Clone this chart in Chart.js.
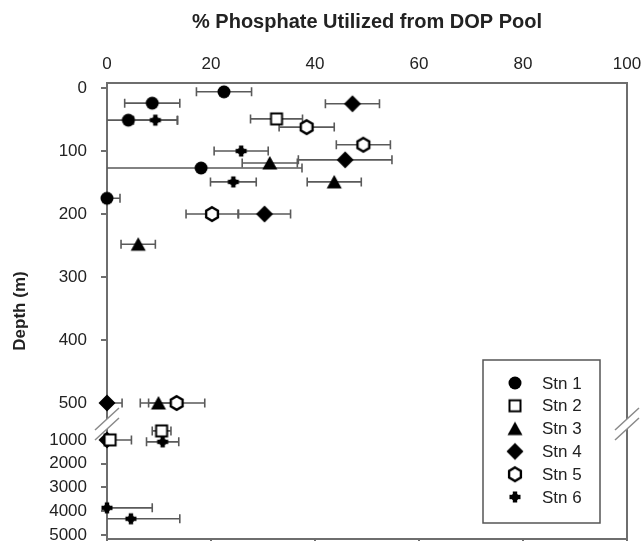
<!DOCTYPE html>
<html>
<head>
<meta charset="utf-8">
<script src="https://cdn.jsdelivr.net/npm/chart.js@4.4.1/dist/chart.umd.min.js"></script>
<style>
    html, body { margin: 0; padding: 0; background: #fff; }
    #wrap { width: 644px; height: 541px; }
</style>
</head>
<body>
<div id="wrap"><canvas id="dop-chart" width="644" height="541"></canvas></div>
<script>
// Values: % utilized, ± error, depth (m)
const stations = ["Stn 1", "Stn 2", "Stn 3", "Stn 4", "Stn 5", "Stn 6"];

const stn1Pct   = [22.5, 8.7, 4.1, 18.1, 0];
const stn1Err   = [5.3, 5.3, 9.5, 19.4, 2.5];
const stn1Depth = [6, 24, 51, 127, 175];

const stn2Pct   = [32.6, 10.5, 0.6];
const stn2Err   = [5.0, 1.8, 4.1];
const stn2Depth = [49, 878, 1000];

const stn3Pct   = [31.3, 43.7, 6.0, 9.9];
const stn3Err   = [5.3, 5.2, 3.3, 3.5];
const stn3Depth = [119, 149, 248, 500];

const stn4Pct   = [47.2, 45.8, 30.3, 0, 0];
const stn4Err   = [5.2, 9.0, 5.0, 2.9, 0];
const stn4Depth = [25, 114, 200, 500, 1000];

const stn5Pct   = [38.4, 49.3, 20.2, 13.4];
const stn5Err   = [5.3, 5.2, 5.0, 5.4];
const stn5Depth = [62, 90, 200, 500];

const stn6Pct   = [9.3, 25.8, 24.3, 10.7, 0, 4.6];
const stn6Err   = [4.2, 5.2, 4.4, 3.1, 8.7, 9.4];
const stn6Depth = [51, 100, 149, 1080, 3860, 4320];

const xTicks = [0, 20, 40, 60, 80, 100];
const depthTicks = [0, 100, 200, 300, 400, 500, 1000, 2000, 3000, 4000, 5000];

const FONT = "'Liberation Sans', Arial, sans-serif";
const AXIS_COLOR = "#6e6e6e";
const BREAK_DEPTH = 785;

// broken axis: 0-500 m linear, 500-1000 squeezed, 1000-5000 compressed
function depthToAxis(d) {
    if (d <= 500) return d;
    if (d <= 1000) return 500 + (d - 500) * 58.7 / 500;
    return 558.7 + (d - 1000) * 0.0377;
}

// the layout must not shrink the plot for the edge labels
function noEdgePadding(s) {
    s.paddingTop = 0; s.paddingBottom = 0;
    s.paddingLeft = 0; s.paddingRight = 0;
}

// --- marker images (one small canvas per station) ---
function makeMarker(draw) {
    const c = document.createElement("canvas");
    c.width = 20; c.height = 20;
    const g = c.getContext("2d");
    g.fillStyle = "#000";
    g.strokeStyle = "#000";
    draw(g);
    return c;
}

const markers = [
    makeMarker(g => { g.beginPath(); g.arc(10, 10, 6.5, 0, Math.PI * 2); g.fill(); }),
    makeMarker(g => {
        g.fillStyle = "#fff"; g.fillRect(4.5, 4.5, 11, 11);
        g.lineWidth = 2; g.strokeRect(4.5, 4.5, 11, 11);
    }),
    makeMarker(g => {
        g.beginPath(); g.moveTo(10, 3); g.lineTo(17.5, 16.5); g.lineTo(2.5, 16.5); g.closePath(); g.fill();
    }),
    makeMarker(g => {
        g.beginPath(); g.moveTo(10, 1.5); g.lineTo(18.5, 10); g.lineTo(10, 18.5); g.lineTo(1.5, 10); g.closePath(); g.fill();
    }),
    makeMarker(g => {
        g.beginPath();
        for (let k = 0; k < 6; k++) {
            const a = -Math.PI / 2 + k * Math.PI / 3;
            const px = 10 + 6.8 * Math.cos(a), py = 10 + 6.8 * Math.sin(a);
            k === 0 ? g.moveTo(px, py) : g.lineTo(px, py);
        }
        g.closePath();
        g.fillStyle = "#fff"; g.fill();
        g.lineWidth = 2.4; g.stroke();
    }),
    makeMarker(g => {
        g.fillRect(7.8, 4.5, 4.4, 11);
        g.fillRect(4.5, 7.8, 11, 4.4);
        g.beginPath(); g.arc(10, 10, 3.6, 0, Math.PI * 2); g.fill();
    })
];

function buildPoints(pct, err, depth) {
    return pct.map((v, i) => ({ x: v, y: depthToAxis(depth[i]), err: err[i] }));
}

const seriesData = [
    buildPoints(stn1Pct, stn1Err, stn1Depth),
    buildPoints(stn2Pct, stn2Err, stn2Depth),
    buildPoints(stn3Pct, stn3Err, stn3Depth),
    buildPoints(stn4Pct, stn4Err, stn4Depth),
    buildPoints(stn5Pct, stn5Err, stn5Depth),
    buildPoints(stn6Pct, stn6Err, stn6Depth)
];

// --- horizontal error bars, drawn under the markers ---
const errorBarPlugin = {
    id: "errorBars",
    beforeDatasetsDraw(chart) {
        const { ctx, scales: { x, y } } = chart;
        ctx.save();
        ctx.strokeStyle = "#5a5a5a";
        ctx.lineWidth = 1.6;
        chart.data.datasets.forEach(ds => {
            ds.data.forEach(p => {
                if (!p.err) return;
                const py = y.getPixelForValue(p.y);
                const lo = p.x - p.err;
                const x1 = x.getPixelForValue(Math.max(lo, 0));
                const x2 = x.getPixelForValue(p.x + p.err);
                ctx.beginPath();
                ctx.moveTo(x1, py); ctx.lineTo(x2, py);
                if (lo > 0) { ctx.moveTo(x1, py - 4.5); ctx.lineTo(x1, py + 4.5); }
                ctx.moveTo(x2, py - 4.5); ctx.lineTo(x2, py + 4.5);
                ctx.stroke();
            });
        });
        ctx.restore();
    }
};

// --- the // marks on both vertical axes ---
const axisBreakPlugin = {
    id: "axisBreak",
    afterDraw(chart) {
        const { ctx, chartArea, scales: { y } } = chart;
        const yb = y.getPixelForValue(depthToAxis(BREAK_DEPTH));
        [chartArea.left, chartArea.right].forEach(xb => {
            ctx.save();
            ctx.fillStyle = "#fff";
            ctx.beginPath();
            ctx.moveTo(xb - 12, yb + 6); ctx.lineTo(xb + 12, yb - 16);
            ctx.lineTo(xb + 12, yb - 6); ctx.lineTo(xb - 12, yb + 16);
            ctx.closePath(); ctx.fill();
            ctx.strokeStyle = "#8a8a8a";
            ctx.lineWidth = 1.5;
            ctx.beginPath();
            ctx.moveTo(xb - 12, yb + 6); ctx.lineTo(xb + 12, yb - 16);
            ctx.moveTo(xb - 12, yb + 16); ctx.lineTo(xb + 12, yb - 6);
            ctx.stroke();
            ctx.restore();
        });
    }
};

// --- boxed legend in the lower right corner of the plot ---
const boxLegendPlugin = {
    id: "boxLegend",
    afterDraw(chart) {
        const { ctx, chartArea } = chart;
        const w = 117, h = 163;
        const left = chartArea.right - 27 - w;
        const top = chartArea.bottom - 16 - h;
        ctx.save();
        ctx.fillStyle = "#fff";
        ctx.fillRect(left, top, w, h);
        ctx.strokeStyle = "#555";
        ctx.lineWidth = 1.5;
        ctx.strokeRect(left, top, w, h);
        ctx.font = "17px " + FONT;
        ctx.fillStyle = "#222";
        ctx.textBaseline = "middle";
        chart.data.datasets.forEach((ds, i) => {
            const cy = top + 23 + i * 22.8;
            const img = ds.pointStyle;
            ctx.drawImage(img, left + 32 - img.width / 2, cy - img.height / 2);
            ctx.fillText(ds.label, left + 59, cy + 1);
        });
        ctx.restore();
    }
};

Chart.defaults.font.family = FONT;

new Chart(document.getElementById("dop-chart"), {
    type: "scatter",
    data: {
        datasets: stations.map((name, i) => ({
            label: name,
            data: seriesData[i],
            pointStyle: markers[i],
            pointRadius: 8,
            pointHoverRadius: 8,
            clip: false
        }))
    },
    plugins: [errorBarPlugin, axisBreakPlugin, boxLegendPlugin],
    options: {
        responsive: false,
        animation: false,
        events: [],
        layout: { padding: 0, autoPadding: false },
        plugins: {
            legend: { display: false },
            tooltip: { enabled: false }
        },
        scales: {
            x: {
                type: "linear",
                position: "top",
                min: 0,
                max: 100,
                afterBuildTicks: s => { s.ticks = xTicks.map(v => ({ value: v })); },
                afterFit: s => { s.height = 83; noEdgePadding(s); },
                ticks: { color: "#222", font: { size: 17 }, padding: 8 },
                grid: { display: false, drawTicks: false },
                border: { display: true, color: AXIS_COLOR, width: 2 },
                title: {
                    display: true,
                    text: "% Phosphate Utilized from DOP Pool",
                    color: "#222",
                    font: { size: 20, weight: "bold" },
                    padding: { top: 10, bottom: 0 }
                }
            },
            xBottom: {
                type: "linear",
                position: "bottom",
                min: 0,
                max: 100,
                afterBuildTicks: s => { s.ticks = xTicks.map(v => ({ value: v })); },
                afterFit: s => { s.height = 2; noEdgePadding(s); },
                ticks: { display: false },
                grid: { drawOnChartArea: false, drawTicks: true, tickLength: 6, color: AXIS_COLOR, lineWidth: 2 },
                border: { display: true, color: AXIS_COLOR, width: 2 }
            },
            y: {
                type: "linear",
                position: "left",
                reverse: true,
                min: -8,
                max: 716,
                afterBuildTicks: s => { s.ticks = depthTicks.map(d => ({ value: depthToAxis(d) })); },
                afterFit: s => { s.width = 107; noEdgePadding(s); },
                ticks: {
                    color: "#222",
                    font: { size: 17 },
                    padding: 14,
                    autoSkip: false,
                    callback: (val, index) => depthTicks[index]
                },
                grid: { drawOnChartArea: false, drawTicks: true, tickLength: 6, color: AXIS_COLOR, lineWidth: 2 },
                border: { display: true, color: AXIS_COLOR, width: 2 },
                title: {
                    display: true,
                    text: "Depth (m)",
                    color: "#222",
                    font: { size: 17, weight: "bold" },
                    padding: { top: 10, bottom: 0 }
                }
            },
            yRight: {
                type: "linear",
                position: "right",
                min: 0,
                max: 1,
                afterFit: s => { s.width = 17; noEdgePadding(s); },
                ticks: { display: false },
                grid: { display: false, drawTicks: false },
                border: { display: true, color: AXIS_COLOR, width: 2 }
            }
        }
    }
});
</script>
</body>
</html>
